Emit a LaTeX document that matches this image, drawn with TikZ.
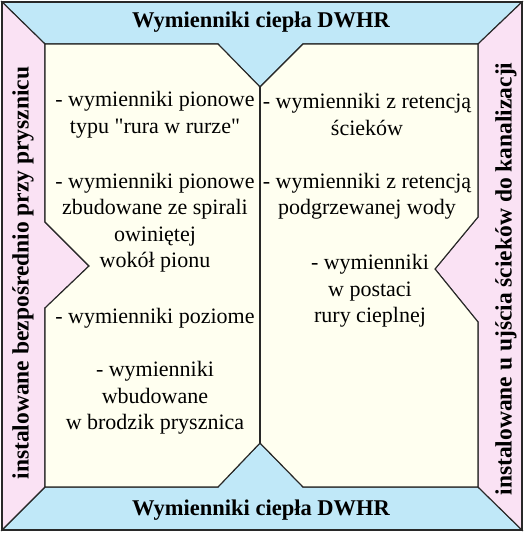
\documentclass[tikz,border=0pt]{standalone}
\usepackage{fontspec}
\setmainfont{Liberation Serif}[Ligatures=TeXOff]
\definecolor{dwblue}{RGB}{192,232,248}
\definecolor{dwpink}{RGB}{250,226,244}
\definecolor{dwcream}{RGB}{255,255,240}
\definecolor{dwline}{RGB}{40,40,40}
\tikzset{
  panel/.style={draw=dwline, line width=1.1pt, line join=miter},
  item/.style={align=center, font=\fontsize{22}{26.5}\selectfont, inner sep=0pt},
  title/.style={font=\fontsize{22.5}{26}\selectfont\bfseries, inner sep=0pt},
  side/.style={font=\fontsize{23.5}{26}\selectfont\bfseries, inner sep=0pt, rotate=90}
}
\begin{document}
\begin{tikzpicture}[x=1pt,y=-1pt]
\useasboundingbox (0,0) rectangle (525,533);
% top
\filldraw[panel, fill=dwblue] (2,2) -- (522,2) -- (478,44) -- (303,44) -- (260,87) -- (218,44) -- (45,44) -- cycle;
% bottom
\filldraw[panel, fill=dwblue] (2,530) -- (45,487) -- (218,487) -- (260,443) -- (303,487) -- (478,487) -- (522,530) -- cycle;
% left
\filldraw[panel, fill=dwpink] (2,2) -- (45,44) -- (45,222) -- (89,266) -- (45,308) -- (45,487) -- (2,530) -- cycle;
% right
\filldraw[panel, fill=dwpink] (522,2) -- (478,44) -- (478,217) -- (435,269) -- (478,322) -- (478,487) -- (522,530) -- cycle;
% centre
\filldraw[panel, fill=dwcream] (45,44) -- (218,44) -- (260,87) -- (303,44) -- (478,44) -- (478,217) -- (435,269) -- (478,322) -- (478,487) -- (303,487) -- (260,443) -- (218,487) -- (45,487) -- (45,308) -- (89,266) -- (45,222) -- cycle;
\draw[panel] (260,87) -- (260,443);
% outer frame
\draw[draw=dwline, line width=2pt] (2,2) rectangle (522,530);

\node[title] (ttop) at (261,22) {Wymienniki ciepła DWHR};
\node[title] (tbot) at (261,510) {Wymienniki ciepła DWHR};
\node[side] (sl) at (23,273) {instalowane bezpośrednio przy prysznicu};
\node[side] (sr) at (506,279) {instalowane u ujścia ścieków do kanalizacji};

\node[item] (l1) at (155,114.5) {- wymienniki pionowe\\typu "rura w rurze"};
\node[item] (l2) at (155,222.5) {- wymienniki pionowe\\zbudowane ze spirali\\owiniętej\\wokół pionu};
\node[item] (l3) at (155,318) {- wymienniki poziome};
\node[item] (l4) at (155,398) {- wymienniki\\wbudowane\\w brodzik prysznica};

\node[item] (r1) at (367,114.5) {- wymienniki z retencją\\ścieków};
\node[item] (r2) at (367,196) {- wymienniki z retencją\\podgrzewanej wody};
\node[item] (r3) at (370,291) {- wymienniki\\w postaci\\rury cieplnej};
\end{tikzpicture}
\end{document}
